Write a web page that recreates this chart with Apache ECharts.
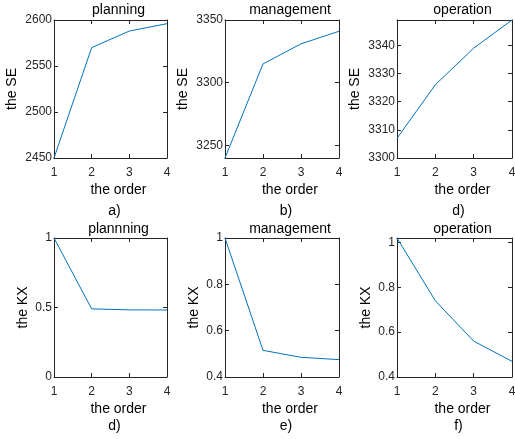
<!DOCTYPE html>
<html>
<head>
<meta charset="utf-8">
<script src="https://cdn.jsdelivr.net/npm/echarts@6/dist/echarts.min.js"></script>
<style>
  html, body { margin: 0; padding: 0; background: #fff; }
  #chart { width: 515px; height: 439px; }
</style>
</head>
<body>
<div id="chart"></div>
<script>
// x values shared by every panel
const order = [1, 2, 3, 4];
const xTicks = [1, 2, 3, 4];

// panel headings and captions
const seTitles = ['planning', 'management', 'operation'];
const kxTitles = ['plannning', 'management', 'operation'];
const seCaptions = ['a)', 'b)', 'd)'];
const kxCaptions = ['d)', 'e)', 'f)'];

// SE per order
const sePlanning = [2450, 2570, 2588, 2596];
const seManagement = [3240, 3315, 3331, 3341];
const seOperation = [3307, 3326, 3339, 3349];

// KX per order
const kxPlanning = [1, 0.49, 0.483, 0.482];
const kxManagement = [1, 0.515, 0.485, 0.475];
const kxOperation = [1.02, 0.74, 0.56, 0.47];

// y tick values
const seTicksPlanning = [2450, 2500, 2550, 2600];
const seTicksManagement = [3250, 3300, 3350];
const seTicksOperation = [3300, 3310, 3320, 3330, 3340];
const kxTicksPlanning = [0, 0.5, 1];
const kxTicksManagement = [0.4, 0.6, 0.8, 1];
const kxTicksOperation = [0.4, 0.6, 0.8, 1];

// y ranges
const seRanges = [[2450, 2600], [3240, 3350], [3300, 3349]];
const kxRanges = [[0, 1], [0.4, 1], [0.4, 1.02]];

const FONT = '"Liberation Sans", Arial, sans-serif';
const AXIS_COLOR = '#262626';
const LINE_COLOR = '#0072BD';

const grids = [], xAxes = [], yAxes = [], series = [], graphic = [];

// panel geometry: left, top, width, height
const cols = [[54, 113], [225, 114], [397, 115]];
const rows = [[20, 138], [238, 139]];

const panels = [
  { row: 0, col: 0, values: sePlanning, ticks: seTicksPlanning, range: seRanges[0], yName: 'the SE', yGap: 35, title: seTitles[0], caption: seCaptions[0] },
  { row: 0, col: 1, values: seManagement, ticks: seTicksManagement, range: seRanges[1], yName: 'the SE', yGap: 35, title: seTitles[1], caption: seCaptions[1] },
  { row: 0, col: 2, values: seOperation, ticks: seTicksOperation, range: seRanges[2], yName: 'the SE', yGap: 35, title: seTitles[2], caption: seCaptions[2] },
  { row: 1, col: 0, values: kxPlanning, ticks: kxTicksPlanning, range: kxRanges[0], yName: 'the KX', yGap: 24, title: kxTitles[0], caption: kxCaptions[0] },
  { row: 1, col: 1, values: kxManagement, ticks: kxTicksManagement, range: kxRanges[1], yName: 'the KX', yGap: 24, title: kxTitles[1], caption: kxCaptions[1] },
  { row: 1, col: 2, values: kxOperation, ticks: kxTicksOperation, range: kxRanges[2], yName: 'the KX', yGap: 24, title: kxTitles[2], caption: kxCaptions[2] }
];

const lineStyle = { color: AXIS_COLOR, width: 1 };
const tickLabel = { fontSize: 12, color: AXIS_COLOR, fontFamily: FONT, formatter: v => String(v) };
const nameStyle = { fontSize: 14, color: '#000', fontFamily: FONT };

panels.forEach((p, i) => {
  const [left, width] = cols[p.col];
  const [top, height] = rows[p.row];
  grids.push({ left, top, width, height, containLabel: false, outerBoundsMode: 'none' });

  // bottom x axis with labels
  xAxes.push({
    gridIndex: i, type: 'value', position: 'bottom', min: 1, max: 4,
    axisLine: { onZero: false, lineStyle },
    axisTick: { inside: true, length: 4, customValues: xTicks, lineStyle },
    axisLabel: Object.assign({ customValues: xTicks, margin: 9 }, tickLabel),
    splitLine: { show: false },
    name: 'the order', nameLocation: 'middle', nameGap: 25,
    nameTextStyle: Object.assign({ padding: [0, 0, 0, 16] }, nameStyle)
  });
  // top mirror axis
  xAxes.push({
    gridIndex: i, type: 'value', position: 'top', min: 1, max: 4,
    axisLine: { onZero: false, lineStyle },
    axisTick: { inside: true, length: 4, customValues: xTicks, lineStyle },
    axisLabel: { show: false },
    splitLine: { show: false }
  });
  // left y axis with labels
  yAxes.push({
    gridIndex: i, type: 'value', position: 'left', min: p.range[0], max: p.range[1],
    axisLine: { onZero: false, lineStyle },
    axisTick: { inside: true, length: 4, customValues: p.ticks, lineStyle },
    axisLabel: Object.assign({ customValues: p.ticks, margin: 2 }, tickLabel),
    splitLine: { show: false },
    name: p.yName, nameLocation: 'middle', nameRotate: 90, nameGap: p.yGap,
    nameTextStyle: nameStyle
  });
  // right mirror axis
  yAxes.push({
    gridIndex: i, type: 'value', position: 'right', min: p.range[0], max: p.range[1],
    axisLine: { onZero: false, lineStyle },
    axisTick: { inside: true, length: 4, customValues: p.ticks, lineStyle },
    axisLabel: { show: false },
    splitLine: { show: false }
  });

  series.push({
    type: 'line', xAxisIndex: 2 * i, yAxisIndex: 2 * i,
    data: order.map((x, k) => [x, p.values[k]]),
    symbol: 'none', silent: true, animation: false,
    lineStyle: { color: LINE_COLOR, width: 1 }
  });

  // heading above the box and caption below the axis name
  graphic.push({
    type: 'text', x: left + width / 2 + 8, y: p.row === 0 ? 10 : 229,
    style: { text: p.title, fill: '#000', fontSize: 14, fontFamily: FONT, align: 'center', verticalAlign: 'middle' }
  });
  graphic.push({
    type: 'text', x: left + width / 2 + 4, y: p.row === 0 ? 211 : 426,
    style: { text: p.caption, fill: '#000', fontSize: 14, fontFamily: FONT, align: 'center', verticalAlign: 'middle' }
  });
});

const chart = echarts.init(document.getElementById('chart'), null, { renderer: 'canvas' });
chart.setOption({
  animation: false,
  backgroundColor: '#fff',
  grid: grids,
  xAxis: xAxes,
  yAxis: yAxes,
  series,
  graphic
});
</script>
</body>
</html>
